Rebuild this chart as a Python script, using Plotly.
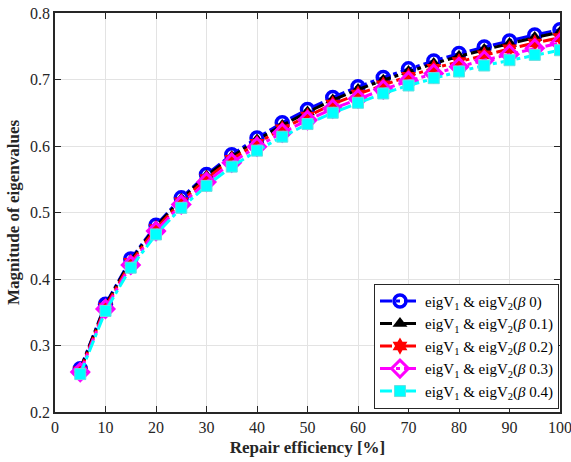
import plotly.graph_objects as go

x_vals = [5, 10, 15, 20, 25, 30, 35, 40, 45, 50, 55, 60, 65, 70, 75, 80, 85, 90, 95, 100]
beta0 = [0.265, 0.362, 0.430, 0.481, 0.522, 0.557, 0.587, 0.612, 0.635, 0.655, 0.673, 0.689, 0.703, 0.716, 0.728, 0.739, 0.749, 0.758, 0.767, 0.775]
beta01 = [0.264, 0.361, 0.428, 0.479, 0.520, 0.555, 0.584, 0.609, 0.631, 0.651, 0.669, 0.685, 0.699, 0.712, 0.724, 0.735, 0.745, 0.754, 0.763, 0.771]
beta02 = [0.262, 0.358, 0.425, 0.476, 0.516, 0.551, 0.580, 0.604, 0.626, 0.645, 0.663, 0.678, 0.692, 0.705, 0.717, 0.727, 0.737, 0.746, 0.755, 0.763]
beta03 = [0.260, 0.355, 0.421, 0.472, 0.512, 0.546, 0.575, 0.599, 0.620, 0.639, 0.656, 0.671, 0.685, 0.698, 0.709, 0.719, 0.729, 0.738, 0.747, 0.755]
beta04 = [0.257, 0.352, 0.417, 0.467, 0.507, 0.540, 0.569, 0.593, 0.614, 0.633, 0.650, 0.665, 0.679, 0.691, 0.702, 0.712, 0.721, 0.729, 0.737, 0.744]
beta_labels = ["0", "0.1", "0.2", "0.3", "0.4"]
x_ticks = [0, 10, 20, 30, 40, 50, 60, 70, 80, 90, 100]
y_ticks = [0.2, 0.3, 0.4, 0.5, 0.6, 0.7, 0.8]

series = [beta0, beta01, beta02, beta03, beta04]
colors = ["#0000FF", "#000000", "#FF0000", "#FF00FF", "#00FFFF"]
markers = [
    dict(symbol="circle-open", size=12, line=dict(width=3.5, color="#0000FF")),
    dict(symbol="triangle-up", size=13, color="#000000"),
    dict(symbol="hexagram", size=13, color="#FF0000"),
    dict(symbol="diamond-open", size=13, line=dict(width=3, color="#FF00FF")),
    dict(symbol="square", size=11, color="#00FFFF", line=dict(width=1, color="#66E0E0")),
]

fig = go.Figure()
for ys, c, m, b in zip(series, colors, markers, beta_labels):
    mk = dict(m)
    mk.setdefault("color", c)
    fig.add_trace(go.Scatter(
        x=x_vals, y=ys, mode="lines+markers",
        line=dict(color=c, width=3, dash="12px,4px,4px,4px"),
        marker=mk,
        name=f"eigV<sub>1</sub> &amp; eigV<sub>2</sub>(<i>β</i> {b})",
    ))

font_family = "Liberation Serif"
axis_common = dict(
    showline=True, linecolor="#262626", linewidth=1.5, mirror="ticks",
    ticks="inside", ticklen=6, tickcolor="#262626",
    showgrid=True, gridcolor="#E3E3E3", gridwidth=1,
    zeroline=False, automargin=False, ticklabeloverflow="allow",
    tickfont=dict(family=font_family, size=16, color="#262626"),
)
fig.update_xaxes(range=[0, 100], tickvals=x_ticks,
                 title=dict(text="<b>Repair efficiency [%]</b>", font=dict(family=font_family, size=17, color="#262626"), standoff=6),
                 **axis_common)
fig.update_yaxes(range=[0.2, 0.8], tickvals=y_ticks, tickformat=".1f",
                 title=dict(text="<b>Magnitude of eigenvalues</b>", font=dict(family=font_family, size=17, color="#262626"), standoff=6),
                 **axis_common)
fig.update_layout(
    width=571, height=462,
    margin=dict(l=55, r=11, t=13, b=50),
    paper_bgcolor="white", plot_bgcolor="white",
    font=dict(family=font_family),
    showlegend=True,
    legend=dict(
        x=0.998, y=0.008, xanchor="right", yanchor="bottom",
        bgcolor="white", bordercolor="#262626", borderwidth=1,
        font=dict(family=font_family, size=15, color="#000000"),
        tracegroupgap=0, itemwidth=40,
    ),
)
fig.write_html("out.html")
